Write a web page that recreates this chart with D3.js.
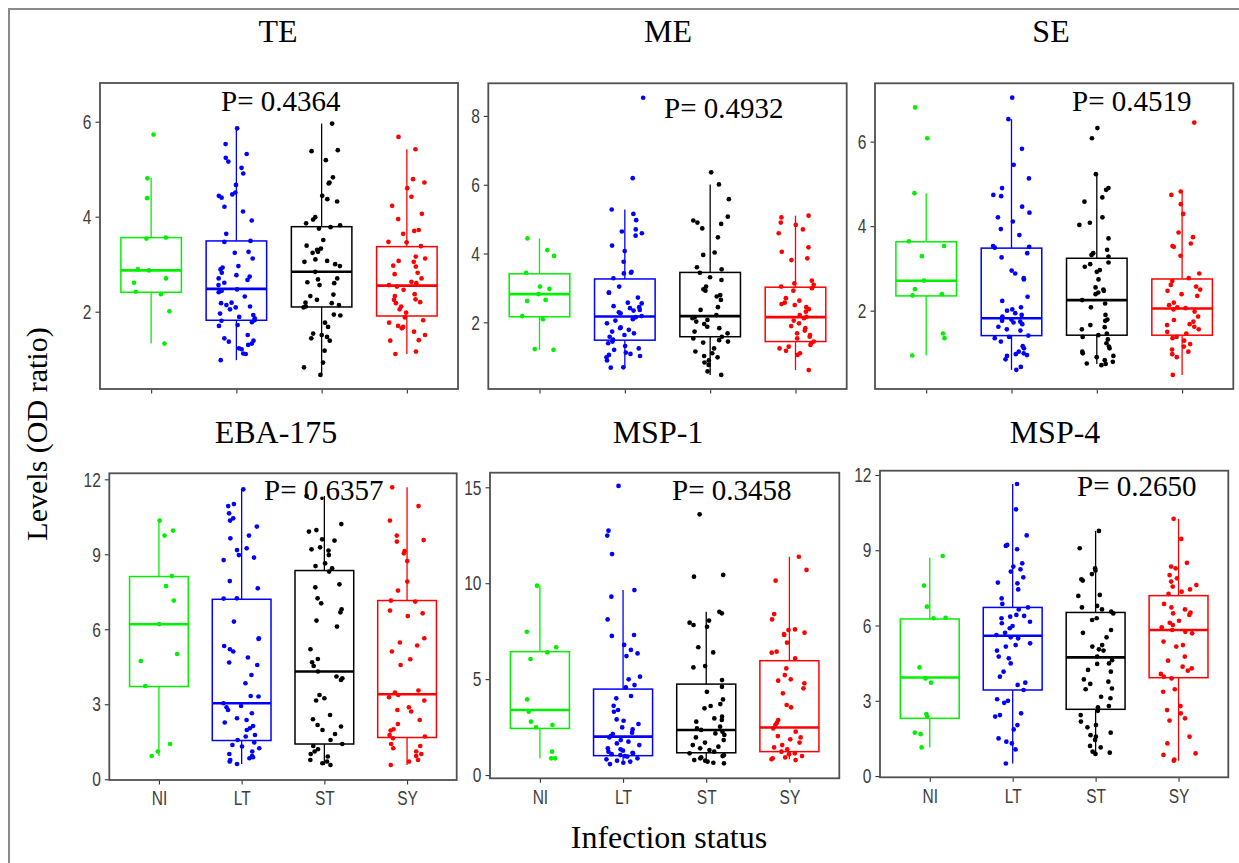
<!DOCTYPE html>
<html>
<head>
<meta charset="utf-8">
<script src="https://cdn.jsdelivr.net/npm/d3@7"></script>
<style>
  body { margin: 0; background: #fff; }
  svg { display: block; }
</style>
</head>
<body>
<svg id="chart" width="1239" height="863"></svg>
<script>
// ---------------- data ----------------
const categories = ["NI", "LT", "ST", "SY"];
const panelTitles = ["TE", "ME", "SE", "EBA-175", "MSP-1", "MSP-4"];
const pValues = ["0.4364", "0.4932", "0.4519", "0.6357", "0.3458", "0.2650"];
const yTickValues = [[2, 4, 6], [2, 4, 6, 8], [2, 4, 6], [0, 3, 6, 9, 12], [0, 5, 10, 15], [0, 3, 6, 9, 12]];

// OD ratio levels per antigen and infection status
const teNI = [5.73,4.81,4.39,3.56,3.54,2.89,2.87,2.70,2.61,2.42,2.37,2.01,1.33];
const teLT = [5.86,5.53,5.32,5.24,5.16,5.03,4.91,4.67,4.51,4.47,4.44,4.40,4.21,4.11,3.92,3.64,3.49,3.47,3.26,3.24,3.12,2.96,2.93,2.89,2.82,2.77,2.74,2.70,2.67,2.61,2.56,2.47,2.44,2.41,2.32,2.19,2.18,2.14,2.11,2.09,2.05,1.96,1.93,1.89,1.86,1.82,1.81,1.78,1.72,1.70,1.51,1.44,1.39,1.37,1.33,1.30,1.23,1.21,1.12,1.11,0.98];
const teST = [5.96,5.40,5.38,5.19,4.83,4.72,4.70,4.44,4.37,4.32,3.99,3.94,3.86,3.82,3.78,3.75,3.51,3.39,3.33,3.30,3.26,3.24,3.10,3.07,3.05,3.00,2.96,2.84,2.70,2.68,2.62,2.60,2.56,2.36,2.33,2.25,2.19,2.18,2.14,2.11,2.09,1.94,1.92,1.77,1.68,1.54,1.51,1.47,1.44,1.39,1.18,0.93,0.83,0.67];
const teSY = [5.68,5.42,4.79,4.72,4.60,4.42,4.23,4.06,3.95,3.72,3.70,3.64,3.47,3.46,3.38,3.16,3.12,3.07,3.05,2.97,2.95,2.82,2.79,2.70,2.63,2.60,2.56,2.53,2.46,2.37,2.33,2.26,2.25,2.20,2.18,2.11,2.05,1.98,1.88,1.82,1.77,1.70,1.68,1.65,1.58,1.51,1.40,1.39,1.16,1.11];

const meNI = [4.44,4.10,3.93,3.44,3.04,2.97,2.82,2.65,2.62,2.18,2.09,1.22,1.20];
const meLT = [8.53,6.19,5.28,5.15,4.97,4.70,4.64,4.59,4.52,4.23,4.07,3.76,3.47,3.44,3.42,3.28,3.04,2.86,2.86,2.72,2.57,2.55,2.47,2.44,2.41,2.36,2.34,2.29,2.26,2.18,2.15,2.09,2.05,1.97,1.85,1.83,1.78,1.73,1.68,1.63,1.58,1.50,1.44,1.39,1.31,1.24,1.20,1.12,1.08,1.05,1.02,0.98,0.89,0.69,0.68];
const meST = [6.36,6.01,5.58,5.07,4.96,4.90,4.86,4.73,4.47,4.03,3.96,3.60,3.54,3.44,3.31,3.23,3.04,2.96,2.92,2.79,2.75,2.65,2.44,2.36,2.21,2.15,2.12,2.07,2.02,1.95,1.87,1.83,1.73,1.68,1.58,1.53,1.48,1.44,1.41,1.24,1.15,1.10,1.02,0.98,0.89,0.83,0.76,0.57,0.47];
const meSY = [5.10,5.05,4.90,4.83,4.70,4.59,4.18,4.05,3.86,3.81,3.21,3.13,3.09,3.04,2.99,2.92,2.70,2.63,2.57,2.53,2.50,2.44,2.38,2.31,2.21,2.16,2.12,2.05,1.97,1.89,1.83,1.76,1.68,1.63,1.58,1.53,1.44,1.39,1.34,1.29,1.24,1.17,1.10,1.05,0.61];

const seNI = [6.81,6.08,4.78,3.64,3.53,3.29,2.71,2.51,2.39,2.36,1.46,1.35,0.94];
const seLT = [7.04,6.53,5.83,5.45,5.13,4.90,4.74,4.71,4.46,4.32,4.21,4.11,3.93,3.79,3.53,3.51,3.49,3.36,3.26,2.95,2.88,2.77,2.74,2.33,2.23,2.08,2.03,2.00,1.94,1.90,1.86,1.82,1.79,1.76,1.74,1.72,1.68,1.62,1.56,1.53,1.41,1.38,1.35,1.27,1.16,1.11,1.03,0.99,0.97,0.95,0.93,0.85,0.67,0.60];
const seST = [6.32,6.08,5.23,4.90,4.86,4.68,4.58,4.21,4.08,4.03,3.71,3.44,3.36,3.32,3.28,3.14,3.10,3.04,2.96,2.92,2.74,2.55,2.50,2.47,2.43,2.39,2.25,2.17,2.08,1.90,1.79,1.76,1.66,1.61,1.56,1.46,1.42,1.38,1.32,1.23,1.15,1.11,1.03,0.99,0.93,0.90,0.83,0.79,0.75,0.74,0.71];
const seSY = [6.45,4.82,4.74,4.52,4.29,3.85,3.74,3.59,3.53,3.51,3.30,2.88,2.77,2.70,2.61,2.57,2.50,2.47,2.39,2.35,2.19,2.13,2.08,2.06,2.03,1.98,1.86,1.78,1.74,1.68,1.66,1.62,1.56,1.50,1.46,1.38,1.35,1.29,1.21,1.15,1.08,1.03,0.97,0.90,0.48];

const ebaNI = [10.35,9.95,9.75,8.13,7.73,7.15,6.21,5.01,4.73,3.73,1.41,1.11,0.93];
const ebaLT = [11.60,11.01,10.93,10.64,10.44,10.35,10.11,9.75,9.64,9.24,9.17,8.97,8.87,8.77,7.93,7.64,7.24,7.23,6.31,5.64,5.61,5.33,5.20,5.11,4.87,4.67,4.57,4.17,3.84,3.33,3.31,3.04,2.93,2.88,2.77,2.64,2.44,2.37,2.27,2.13,2.04,1.97,1.77,1.71,1.57,1.47,1.37,1.31,1.24,1.11,1.01,0.93,0.88,0.84,0.77,0.71,0.61];
const ebaST = [11.33,10.21,9.97,9.91,9.60,9.55,9.28,9.20,9.15,8.97,8.64,8.53,8.44,8.31,7.80,7.68,7.24,7.04,6.80,6.68,6.35,6.11,5.20,4.81,4.68,4.53,4.31,4.11,4.04,3.97,3.37,3.24,3.15,2.57,2.40,2.17,2.11,1.97,1.81,1.57,1.41,1.33,1.20,1.11,1.01,0.91,0.77,0.71,0.64,0.57];
const ebaSY = [11.68,10.93,10.35,9.75,9.57,9.51,9.13,9.04,8.73,7.91,7.55,7.15,7.11,6.75,6.64,6.53,5.64,5.47,5.35,5.11,4.80,4.57,3.55,3.47,3.37,3.28,3.15,2.88,2.77,2.71,2.37,2.21,2.00,1.95,1.77,1.71,1.64,1.41,1.33,1.24,1.11,1.01,0.93,0.77,0.71,0.57];

const msp1NI = [9.87,7.47,6.66,6.39,6.05,3.94,3.30,2.78,2.61,2.48,1.22,0.87,0.87];
const msp1LT = [15.07,12.74,12.48,11.52,9.64,9.30,8.11,7.30,7.25,6.78,6.52,6.34,6.20,5.13,4.99,4.69,4.57,4.12,4.00,3.61,3.39,3.30,2.90,2.83,2.66,2.48,2.38,2.21,2.14,2.03,1.96,1.82,1.74,1.65,1.56,1.39,1.34,1.27,1.22,1.16,1.13,1.09,1.04,0.99,0.96,0.87,0.82,0.75,0.70,0.64,0.57];
const msp1ST = [13.59,10.43,10.34,8.51,8.43,8.05,7.94,7.82,7.73,6.66,6.39,5.68,5.61,4.95,4.60,4.34,3.94,3.70,3.60,3.48,3.04,2.95,2.87,2.78,2.52,2.43,2.35,2.26,2.17,2.09,1.96,1.82,1.69,1.56,1.48,1.39,1.30,1.22,1.13,1.04,0.99,0.92,0.87,0.78,0.75,0.70,0.64,0.61];
const msp1SY = [11.38,10.69,10.13,8.39,8.11,7.59,7.56,7.42,7.35,7.30,6.90,6.43,6.38,6.08,5.56,5.21,4.99,4.92,4.78,4.52,4.26,3.65,3.53,2.87,2.73,2.61,2.43,2.26,2.03,1.96,1.86,1.69,1.56,1.44,1.34,1.22,1.13,1.09,0.99,0.92,0.87,0.82,0.78];

const msp4NI = [8.77,7.59,6.75,6.31,6.29,4.33,3.89,3.72,2.47,2.37,1.73,1.67,1.14];
const msp4LT = [11.64,10.63,9.59,9.21,9.17,9.04,8.48,8.35,8.24,8.15,7.92,7.71,7.68,7.44,7.08,6.86,6.72,6.64,6.42,6.38,6.35,6.29,6.15,6.09,5.98,5.89,5.71,5.62,5.53,5.49,5.29,5.22,5.16,5.00,4.76,4.69,4.49,4.16,3.96,3.72,3.63,3.43,3.06,3.00,2.92,2.50,2.43,2.37,2.03,1.86,1.50,1.37,1.30,1.06,0.50];
const msp4ST = [9.77,9.08,8.28,8.19,8.05,7.84,7.79,7.22,7.18,6.78,6.72,6.64,6.55,6.48,6.29,6.22,5.82,5.71,5.53,5.22,5.16,5.05,5.00,4.76,4.62,4.49,4.47,4.23,4.16,3.85,3.76,3.67,3.49,3.46,3.16,3.10,2.79,2.74,2.60,2.43,2.17,2.03,1.94,1.73,1.63,1.57,1.44,1.20,1.14,0.97,0.93,0.88];
const msp4SY = [10.25,9.45,8.50,8.35,8.28,8.01,7.88,7.75,7.61,7.55,7.44,7.35,7.26,6.86,6.72,6.64,6.51,6.48,6.42,6.19,6.11,6.02,5.93,5.82,5.75,5.69,5.36,5.22,5.16,4.76,4.60,4.36,4.29,4.20,4.07,3.96,3.89,3.46,3.36,2.79,2.63,2.50,2.30,2.21,1.57,1.30,0.90,0.84,0.66,0.61];

// box summaries per group: [lower whisker, Q1, median, Q3, upper whisker]
const teBox   = [[1.33,2.41,2.87,3.56,4.82],[0.98,1.82,2.48,3.49,5.86],[0.67,2.10,2.84,3.79,5.96],[1.11,1.91,2.55,3.37,5.42]];
const meBox   = [[1.20,2.16,2.82,3.41,4.44],[0.68,1.48,2.17,3.26,5.28],[0.47,1.58,2.18,3.45,6.01],[0.61,1.44,2.15,3.02,5.10]];
const seBox   = [[0.94,2.35,2.71,3.63,4.78],[0.60,1.41,1.82,3.48,6.53],[0.74,1.42,2.25,3.24,5.23],[0.48,1.42,2.05,2.75,4.82]];
const ebaBox  = [[0.93,3.71,6.20,8.11,10.35],[0.61,1.55,3.04,7.20,11.60],[0.57,1.41,4.31,8.35,11.33],[0.57,1.67,3.40,7.15,11.68]];
const msp1Box = [[0.87,2.43,3.39,6.43,9.87],[0.61,1.01,2.00,4.48,9.64],[0.64,1.16,2.35,4.74,8.51],[0.82,1.22,2.48,5.96,11.38]];
const msp4Box = [[1.14,2.30,3.93,6.26,8.70],[0.50,3.43,5.59,6.72,11.64],[0.88,2.66,4.73,6.52,9.77],[0.61,3.92,5.82,7.19,10.25]];

const panelValues = [
  [teNI, teLT, teST, teSY],
  [meNI, meLT, meST, meSY],
  [seNI, seLT, seST, seSY],
  [ebaNI, ebaLT, ebaST, ebaSY],
  [msp1NI, msp1LT, msp1ST, msp1SY],
  [msp4NI, msp4LT, msp4ST, msp4SY]
];
const panelBoxes = [teBox, meBox, seBox, ebaBox, msp1Box, msp4Box];

// ---------------- layout & style ----------------
const groupColors = ["#00f000", "#0000ff", "#000000", "#ff0000"];
const layout = [
  { x0: 100,   x1: 458,    y0: 83,    y1: 389,   dom: [0.373, 6.815], title: [278, 42],  p: [221, 110.7] },
  { x0: 488.3, x1: 846.7,  y0: 83.3,  y1: 389,   dom: [0.06, 8.95],   title: [668, 42],  p: [664, 118.3] },
  { x0: 875,   x1: 1233.3, y0: 83.3,  y1: 389,   dom: [0.147, 7.38],  title: [1051, 42], p: [1072, 110.7] },
  { x0: 109.3, x1: 456.7,  y0: 473.3, y1: 780,   dom: [-0.03, 12.24], title: [276, 443], p: [264, 500] },
  { x0: 490,   x1: 839.3,  y0: 472.7, y1: 778.3, dom: [-0.17, 15.76], title: [658, 443], p: [672, 500] },
  { x0: 880,   x1: 1228.3, y0: 470.7, y1: 777.3, dom: [-0.05, 12.17], title: [1055, 443], p: [1077, 496] }
];
const serif = "'Liberation Serif', 'Times New Roman', serif";
const sans = "'Liberation Sans', Arial, sans-serif";
const tickColor = "#3d3d3d";
const tickFont = 21;
const narrow = 0.74;     // horizontal squeeze of tick labels (narrow face)

// small seeded generator for the horizontal jitter of points
function makeJitter(seed) {
  let s = seed >>> 0;
  return function () {
    s = (s + 0x6D2B79F5) >>> 0;
    let t = s;
    t = Math.imul(t ^ (t >>> 15), t | 1);
    t ^= t + Math.imul(t ^ (t >>> 7), t | 61);
    return ((t ^ (t >>> 14)) >>> 0) / 4294967296;
  };
}

const svg = d3.select("#chart");

// outer frame
svg.append("rect")
  .attr("x", 9).attr("y", 9).attr("width", 1400).attr("height", 1000)
  .attr("fill", "none").attr("stroke", "#8a8a8a").attr("stroke-width", 2);

panelTitles.forEach((title, i) => {
  const L = layout[i];
  const bottomRow = i >= 3;
  const x = d3.scalePoint().domain(categories).range([L.x0, L.x1]).padding(0.6);
  const y = d3.scaleLinear().domain(L.dom).range([L.y1, L.y0]);
  const step = x.step();
  const boxW = step * 0.71;
  const g = svg.append("g");

  // y axis
  const ya = g.append("g")
    .attr("transform", `translate(${L.x0},0)`)
    .call(d3.axisLeft(y).tickValues(yTickValues[i]).tickFormat(d3.format("d"))
      .tickSize(4.5).tickPadding(4));
  ya.select(".domain").remove();
  ya.selectAll(".tick line").attr("stroke", "#333").attr("stroke-width", 1.1);
  ya.selectAll(".tick text")
    .attr("font-family", sans).attr("font-size", tickFont).attr("fill", tickColor)
    .attr("x", -8.5 / narrow)
    .attr("transform", `scale(${narrow},1)`);

  // x axis
  const xa = g.append("g")
    .attr("transform", `translate(0,${L.y1})`)
    .call(d3.axisBottom(x).tickSize(4.5).tickPadding(6)
      .tickFormat(bottomRow ? (d => d) : () => ""));
  xa.select(".domain").remove();
  xa.selectAll(".tick line").attr("stroke", "#333").attr("stroke-width", 1.1);
  xa.selectAll(".tick text")
    .attr("font-family", sans).attr("font-size", tickFont).attr("fill", tickColor)
    .attr("transform", `scale(${narrow},1)`);

  // boxes and whiskers
  categories.forEach((c, k) => {
    const [lo, q1, med, q3, hi] = panelBoxes[i][k];
    const cx = x(c);
    const col = groupColors[k];
    const bg = g.append("g");
    bg.append("line").attr("x1", cx).attr("x2", cx).attr("y1", y(q3)).attr("y2", y(hi))
      .attr("stroke", col).attr("stroke-width", 1.3);
    bg.append("line").attr("x1", cx).attr("x2", cx).attr("y1", y(q1)).attr("y2", y(lo))
      .attr("stroke", col).attr("stroke-width", 1.3);
    bg.append("rect").attr("x", cx - boxW / 2).attr("width", boxW)
      .attr("y", y(q3)).attr("height", y(q1) - y(q3))
      .attr("fill", "#fff").attr("stroke", col).attr("stroke-width", 1.5);
    bg.append("line").attr("x1", cx - boxW / 2).attr("x2", cx + boxW / 2)
      .attr("y1", y(med)).attr("y2", y(med))
      .attr("stroke", col).attr("stroke-width", 2.6);
  });

  // jittered points
  categories.forEach((c, k) => {
    const rnd = makeJitter(1000 * (i + 1) + 37 * (k + 1));
    const col = groupColors[k];
    g.append("g").selectAll("circle")
      .data(panelValues[i][k])
      .join("circle")
      .attr("cx", () => x(c) + (rnd() - 0.5) * 0.44 * step)
      .attr("cy", d => y(d))
      .attr("r", 2.35)
      .attr("fill", col);
  });

  // panel border
  g.append("rect")
    .attr("x", L.x0).attr("y", L.y0)
    .attr("width", L.x1 - L.x0).attr("height", L.y1 - L.y0)
    .attr("fill", "none").attr("stroke", "#505050").attr("stroke-width", 1.8);

  // p-value annotation
  g.append("text")
    .attr("x", L.p[0]).attr("y", L.p[1])
    .attr("font-family", serif).attr("font-size", 29).attr("fill", "#000")
    .text("P= " + pValues[i]);

  // antigen title
  svg.append("text")
    .attr("x", L.title[0]).attr("y", L.title[1])
    .attr("text-anchor", "middle")
    .attr("font-family", serif).attr("font-size", 32).attr("fill", "#000")
    .text(title);
});

// shared axis titles
svg.append("text")
  .attr("transform", "translate(47,434) rotate(-90)")
  .attr("text-anchor", "middle")
  .attr("font-family", serif).attr("font-size", 30).attr("fill", "#000")
  .text("Levels (OD ratio)");

svg.append("text")
  .attr("x", 669).attr("y", 848)
  .attr("text-anchor", "middle")
  .attr("font-family", serif).attr("font-size", 32).attr("fill", "#000")
  .text("Infection status");
</script>
</body>
</html>
